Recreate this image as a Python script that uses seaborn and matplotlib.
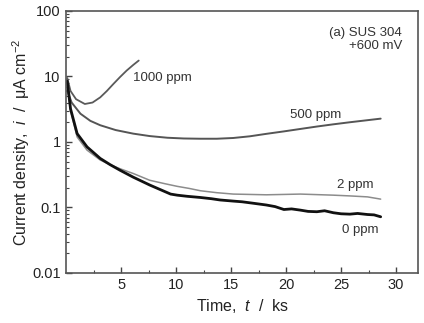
import matplotlib
matplotlib.use("Agg")
import matplotlib.pyplot as plt
import matplotlib.ticker as mticker
import seaborn as sns
import pandas as pd

# Potentiostatic current transients, SUS 304 at +600 mV
t_1000 = [0.1, 0.4, 0.9, 1.7, 2.4, 3.1, 3.7, 4.3, 4.9, 5.5, 6.1, 6.6]
i_1000 = [9.5, 6.0, 4.5, 3.8, 4.0, 4.8, 6.0, 7.7, 9.8, 12.3, 15.0, 17.5]

t_500 = [0.1, 0.5, 1.3, 2.2, 3.1, 4.5, 6.1, 7.6, 9.2, 10.7, 12.2, 13.7, 15.2,
         16.7, 18.2, 19.8, 21.3, 22.8, 24.3, 25.8, 27.4, 28.6]
i_500 = [6.1, 4.0, 2.7, 2.1, 1.8, 1.52, 1.34, 1.23, 1.16, 1.13, 1.12, 1.12, 1.15,
         1.22, 1.33, 1.45, 1.58, 1.72, 1.86, 2.0, 2.15, 2.27]

t_2 = [0.1, 0.4, 1.0, 1.9, 3.1, 4.0, 4.9, 6.1, 7.6, 9.0, 10.1, 11.2, 12.2, 13.7,
       15.2, 16.7, 18.2, 19.8, 21.3, 22.8, 24.3, 25.8, 27.4, 28.6]
i_2 = [7.7, 3.0, 1.19, 0.75, 0.53, 0.45, 0.39, 0.33, 0.26, 0.23, 0.21, 0.195, 0.18,
       0.168, 0.16, 0.158, 0.156, 0.158, 0.16, 0.157, 0.154, 0.15, 0.145, 0.134]

t_0 = [0.1, 0.4, 1.0, 1.9, 3.1, 4.0, 4.9, 6.1, 7.6, 9.5, 10.1, 11.0, 12.2, 13.2,
       14.0, 15.2, 16.0, 17.0, 18.2, 19.0, 19.8, 20.5, 21.3, 22.0, 22.8, 23.5,
       24.3, 25.0, 25.8, 26.5, 27.4, 28.0, 28.6]
i_0 = [8.5, 3.2, 1.34, 0.84, 0.56, 0.45, 0.37, 0.29, 0.22, 0.16, 0.154, 0.148, 0.142,
       0.136, 0.13, 0.125, 0.122, 0.116, 0.109, 0.103, 0.093, 0.095, 0.091, 0.087,
       0.086, 0.089, 0.083, 0.080, 0.079, 0.081, 0.078, 0.077, 0.072]

conc_labels = ["1000 ppm", "500 ppm", "2 ppm", "0 ppm"]

frames = []
for name, t, i in zip(conc_labels, [t_1000, t_500, t_2, t_0],
                      [i_1000, i_500, i_2, i_0]):
    frames.append(pd.DataFrame({"t": t, "i": i, "conc": name}))
df = pd.concat(frames, ignore_index=True)

sns.set_style("ticks")
plt.rcParams["font.family"] = ["Liberation Sans", "DejaVu Sans"]
plt.rcParams["mathtext.fontset"] = "custom"
plt.rcParams["mathtext.it"] = "Liberation Sans:italic"
plt.rcParams["mathtext.rm"] = "Liberation Sans"

fig = plt.figure(figsize=(4.24, 3.23), dpi=100)
ax = fig.add_axes([0.156, 0.155, 0.830, 0.811])

palette = {"1000 ppm": "#5a5a5a", "500 ppm": "#555555", "2 ppm": "#8c8c8c", "0 ppm": "#111111"}
widths = {"1000 ppm": 1.3, "500 ppm": 1.4, "2 ppm": 1.1, "0 ppm": 2.0}
for name in conc_labels:
    sns.lineplot(data=df[df["conc"] == name], x="t", y="i", ax=ax,
                 color=palette[name], lw=widths[name], legend=False,
                 estimator=None, sort=False)

ax.set_yscale("log")
ax.set_xlim(0, 32)
ax.set_ylim(0.01, 100)

ax.xaxis.set_major_locator(mticker.FixedLocator([5, 10, 15, 20, 25, 30]))
ax.xaxis.set_minor_locator(mticker.FixedLocator([2.5, 7.5, 12.5, 17.5, 22.5, 27.5]))
ax.yaxis.set_major_locator(mticker.FixedLocator([0.01, 0.1, 1, 10, 100]))
ax.yaxis.set_major_formatter(mticker.FixedFormatter(["0.01", "0.1", "1", "10", "100"]))
ax.yaxis.set_minor_locator(mticker.LogLocator(base=10, subs=range(2, 10)))
ax.yaxis.set_minor_formatter(mticker.NullFormatter())

ax.tick_params(which="both", direction="in", colors="#444444", labelcolor="#222222",
               labelsize=10.5)
ax.tick_params(which="major", length=4, width=1.0, pad=4)
ax.tick_params(which="minor", length=2.5, width=0.8)
for sp in ax.spines.values():
    sp.set_color("#555555")
    sp.set_linewidth(1.2)

ax.set_xlabel("Time,  $t$  /  ks", fontsize=11.5, color="#222222", labelpad=3)
ax.set_ylabel("Current density,  $i$  /  \u03bcA cm$^{-2}$", fontsize=11.5,
              color="#222222", labelpad=0)

lbl_kw = dict(fontsize=9.5, color="#333333", va="center", ha="left")
ax.text(6.1, 9.5, "1000 ppm", **lbl_kw)
ax.text(20.4, 2.6, "500 ppm", **lbl_kw)
ax.text(24.6, 0.22, "2 ppm", **lbl_kw)
ax.text(25.1, 0.045, "0 ppm", **lbl_kw)

ax.text(0.955, 0.94, "(a) SUS 304\n+600 mV", transform=ax.transAxes,
        ha="right", va="top", fontsize=9.5, color="#333333", linespacing=1.1)

fig.savefig("out.png", dpi=100)
